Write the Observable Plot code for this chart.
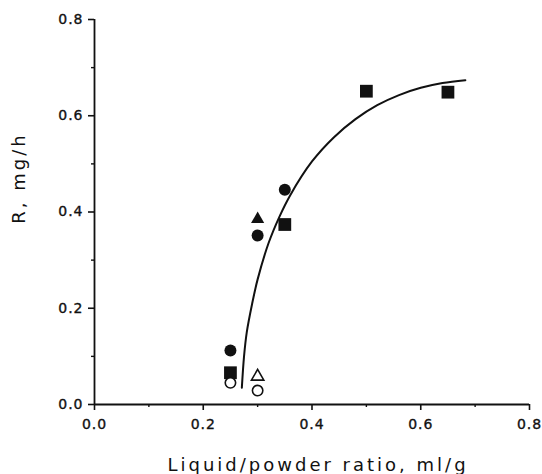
<!DOCTYPE html>
<html>
<head>
<meta charset="utf-8">
<script src="https://cdn.jsdelivr.net/npm/d3@7"></script>
<script src="https://cdn.jsdelivr.net/npm/@observablehq/plot@0.6"></script>
<style>
  body { margin: 0; background: white; }
  svg text { letter-spacing: 1px; }
  g[aria-label$="tick label"] text { stroke: #111; stroke-width: 0.35px; }
</style>
</head>
<body>
<div id="chart"></div>
<script>
// Data
const squareX = [0.25, 0.35, 0.50, 0.65];
const squareY = [0.066, 0.374, 0.651, 0.649];
const circleX = [0.25, 0.30, 0.35];
const circleY = [0.112, 0.351, 0.446];
const triX = [0.30];
const triY = [0.385];
const openTriX = [0.30];
const openTriY = [0.058];
const openCircX = [0.25, 0.30];
const openCircY = [0.045, 0.029];
// Fitted curve
const curveX = [0.271, 0.275, 0.28, 0.29, 0.30, 0.32, 0.34, 0.36, 0.40, 0.44, 0.48, 0.52, 0.56, 0.60, 0.64, 0.682];
const curveY = [0.035, 0.10, 0.15, 0.21, 0.26, 0.335, 0.39, 0.435, 0.505, 0.555, 0.593, 0.622, 0.643, 0.658, 0.668, 0.674];
const majorTicks = [0, 0.2, 0.4, 0.6, 0.8];
const minorTicks = [0.1, 0.3, 0.5, 0.7];
const xTitle = "Liquid/powder ratio, ml/g";
const yTitle = "R, mg/h";

const pts = (xs, ys) => xs.map((x, i) => ({x, y: ys[i]}));

const chart = Plot.plot({
  width: 542,
  height: 474,
  marginLeft: 94,
  marginRight: 13,
  marginTop: 19,
  marginBottom: 70,
  x: {domain: [0, 0.8]},
  y: {domain: [0, 0.8]},
  style: {fontFamily: "DejaVu Sans", color: "#111", background: "white"},
  marks: [
    Plot.axisX(majorTicks, {tickSize: 6, tickPadding: 9, fontSize: 14, strokeWidth: 1.6, label: null, tickFormat: d3.format(".1f")}),
    Plot.axisX(minorTicks, {tickSize: 3, strokeWidth: 1.4, label: null, tickFormat: () => ""}),
    Plot.axisY(majorTicks, {tickSize: 6, tickPadding: 5, fontSize: 14, strokeWidth: 1.6, label: null, tickFormat: d3.format(".1f")}),
    Plot.axisY(minorTicks, {tickSize: 3, strokeWidth: 1.4, label: null, tickFormat: () => ""}),
    Plot.ruleY([0], {x1: 0, x2: 0.8, strokeWidth: 1.8}),
    Plot.ruleX([0], {y1: 0, y2: 0.8, strokeWidth: 1.8}),
    Plot.line(pts(curveX, curveY), {x: "x", y: "y", curve: "catmull-rom", strokeWidth: 2, stroke: "#111"}),
    Plot.dot(pts(squareX, squareY), {x: "x", y: "y", symbol: "square", r: 7.2, fill: "#111", stroke: "none"}),
    Plot.dot(pts(circleX, circleY), {x: "x", y: "y", symbol: "circle", r: 6, fill: "#111", stroke: "none"}),
    Plot.dot(pts(triX, triY), {x: "x", y: "y", symbol: "triangle", r: 4.9, fill: "#111", stroke: "none"}),
    Plot.dot(pts(openTriX, openTriY), {x: "x", y: "y", symbol: "triangle", r: 4.6, fill: "white", stroke: "#111", strokeWidth: 1.6}),
    Plot.dot(pts(openCircX, openCircY), {x: "x", y: "y", symbol: "circle", r: 5.2, fill: "white", stroke: "#111", strokeWidth: 1.6}),
    Plot.text([xTitle], {frameAnchor: "bottom", lineAnchor: "middle", textAnchor: "middle", dx: 6, dy: 61, fontSize: 18, fill: "#111"}),
    Plot.text([yTitle], {frameAnchor: "left", lineAnchor: "middle", textAnchor: "middle", rotate: -90, dx: -75, dy: -34, fontSize: 18, fill: "#111"})
  ]
});

d3.select(chart).selectAll("text")
  .filter(function() { return this.textContent === xTitle || this.textContent === yTitle; })
  .style("letter-spacing", "3px");

document.getElementById("chart").appendChild(chart);
</script>
</body>
</html>
